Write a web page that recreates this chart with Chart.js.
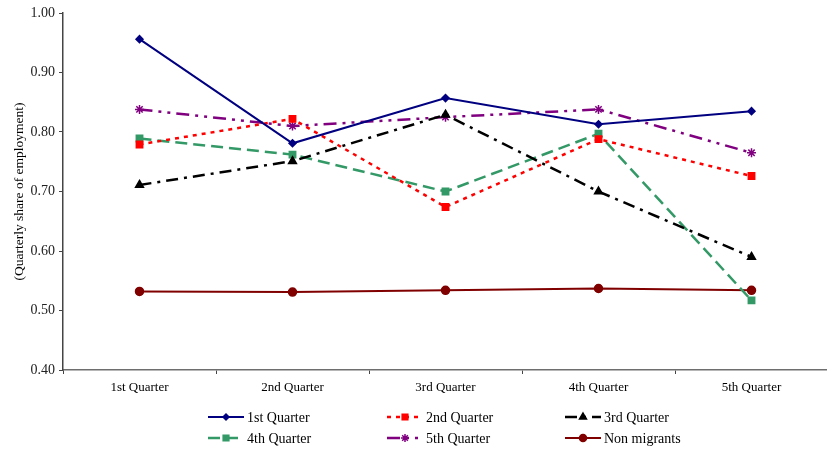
<!DOCTYPE html>
<html>
<head>
<meta charset="utf-8">
<script src="https://cdn.jsdelivr.net/npm/chart.js@4.4.1/dist/chart.umd.min.js"></script>
<style>
  html, body { margin: 0; padding: 0; background: #fff; overflow: hidden; }
  #wrap { width: 827px; height: 453px; overflow: hidden; position: relative; }
  #wrap canvas { position: absolute; left: 0; top: 0; }
</style>
</head>
<body>
<div id="wrap"><canvas id="c" width="834" height="453"></canvas></div>
<script>
// Categories along the x axis
const categories = ['1st Quarter', '2nd Quarter', '3rd Quarter', '4th Quarter', '5th Quarter'];

// Quarterly share of employment, by migrant cohort
const firstQuarter  = [0.956, 0.781, 0.857, 0.813, 0.835];
const secondQuarter = [0.779, 0.822, 0.674, 0.788, 0.726];
const thirdQuarter  = [0.711, 0.751, 0.829, 0.700, 0.590];
const fourthQuarter = [0.789, 0.762, 0.700, 0.797, 0.517];
const fifthQuarter  = [0.838, 0.810, 0.825, 0.838, 0.765];
const nonMigrants   = [0.532, 0.531, 0.534, 0.537, 0.534];

// Y axis range and tick step
const yMin = 0.40, yMax = 1.00, yStep = 0.10;
const yTitle = '(Quarterly share of employment)';

const FONT = "'Liberation Serif', 'Times New Roman', serif";

function series(label, data, color, dash, width, style, radius) {
  return {
    label, data,
    borderColor: color, backgroundColor: color,
    borderDash: dash, borderWidth: width,
    pointStyle: style, pointRadius: radius, pointHoverRadius: radius,
    pointBorderColor: color, pointBackgroundColor: color, pointBorderWidth: 1.5,
    tension: 0, fill: false
  };
}

const datasets = [
  series('1st Quarter',  firstQuarter,  '#000080', [],                    2,   'rectRot',  3.5),
  series('2nd Quarter',  secondQuarter, '#ff0000', [4, 5],                2.5, 'rect',     4.5),
  series('3rd Quarter',  thirdQuarter,  '#000000', [12, 6, 3, 6],         2.5, 'triangle', 4.5),
  series('4th Quarter',  fourthQuarter, '#339966', [12, 6],               2.5, 'rect',     4.5),
  series('5th Quarter',  fifthQuarter,  '#800080', [13, 6, 3, 6, 3, 6],   2.5, 'star',     4.5),
  series('Non migrants', nonMigrants,   '#800000', [],                    2,   'circle',   4)
];

// Three-column legend drawn under the axis labels
const gridLegend = {
  id: 'gridLegend',
  afterDraw(chart) {
    const ctx = chart.ctx;
    const colX = [208, 387, 565];
    const rowY = [417, 438];
    const lineLen = 36;
    chart.data.datasets.forEach((ds, i) => {
      const x = colX[i % 3];
      const y = rowY[Math.floor(i / 3)];
      ctx.save();
      ctx.strokeStyle = ds.borderColor;
      ctx.lineWidth = ds.borderWidth;
      ctx.setLineDash(ds.borderDash);
      ctx.beginPath();
      ctx.moveTo(x, y);
      ctx.lineTo(x + lineLen, y);
      ctx.stroke();
      ctx.setLineDash([]);
      ctx.fillStyle = ds.pointBackgroundColor;
      ctx.strokeStyle = ds.pointBorderColor;
      ctx.lineWidth = ds.pointBorderWidth;
      Chart.helpers.drawPoint(ctx, {
        pointStyle: ds.pointStyle, radius: ds.pointRadius - 0.5, rotation: 0, borderWidth: ds.pointBorderWidth
      }, x + lineLen / 2, y);
      ctx.fillStyle = '#000';
      ctx.font = '14px ' + FONT;
      ctx.textBaseline = 'middle';
      ctx.textAlign = 'left';
      ctx.fillText(ds.label, x + lineLen + 3, y + 1);
      ctx.restore();
    });
  }
};

new Chart(document.getElementById('c'), {
  type: 'line',
  data: { labels: categories, datasets },
  plugins: [gridLegend],
  options: {
    responsive: false,
    animation: false,
    events: [],
    layout: { padding: { top: 13, left: 11, right: 0, bottom: 0 } },
    plugins: { legend: { display: false }, tooltip: { enabled: false } },
    scales: {
      x: {
        type: 'category',
        offset: true,
        border: { display: true, color: '#6e6e6e', width: 1.5 },
        grid: { display: true, offset: true, drawOnChartArea: false, drawTicks: true, tickLength: 4, color: '#444', lineWidth: 1 },
        ticks: { color: '#000', font: { family: FONT, size: 13 }, padding: 6, maxRotation: 0 },
        afterFit(scale) { scale.height = 83; }
      },
      y: {
        min: yMin, max: yMax,
        border: { display: true, color: '#444', width: 1.5 },
        grid: { display: true, drawOnChartArea: false, drawTicks: true, tickLength: 4, color: '#444' },
        ticks: {
          stepSize: yStep, color: '#222', padding: 4,
          font: { family: FONT, size: 14 },
          callback: v => Number(v).toFixed(2)
        },
        title: { display: true, text: yTitle, color: '#000', font: { family: FONT, size: 13.5 }, padding: 0 },
        afterFit(scale) { scale.width = 52; }
      }
    }
  }
});
</script>
</body>
</html>
